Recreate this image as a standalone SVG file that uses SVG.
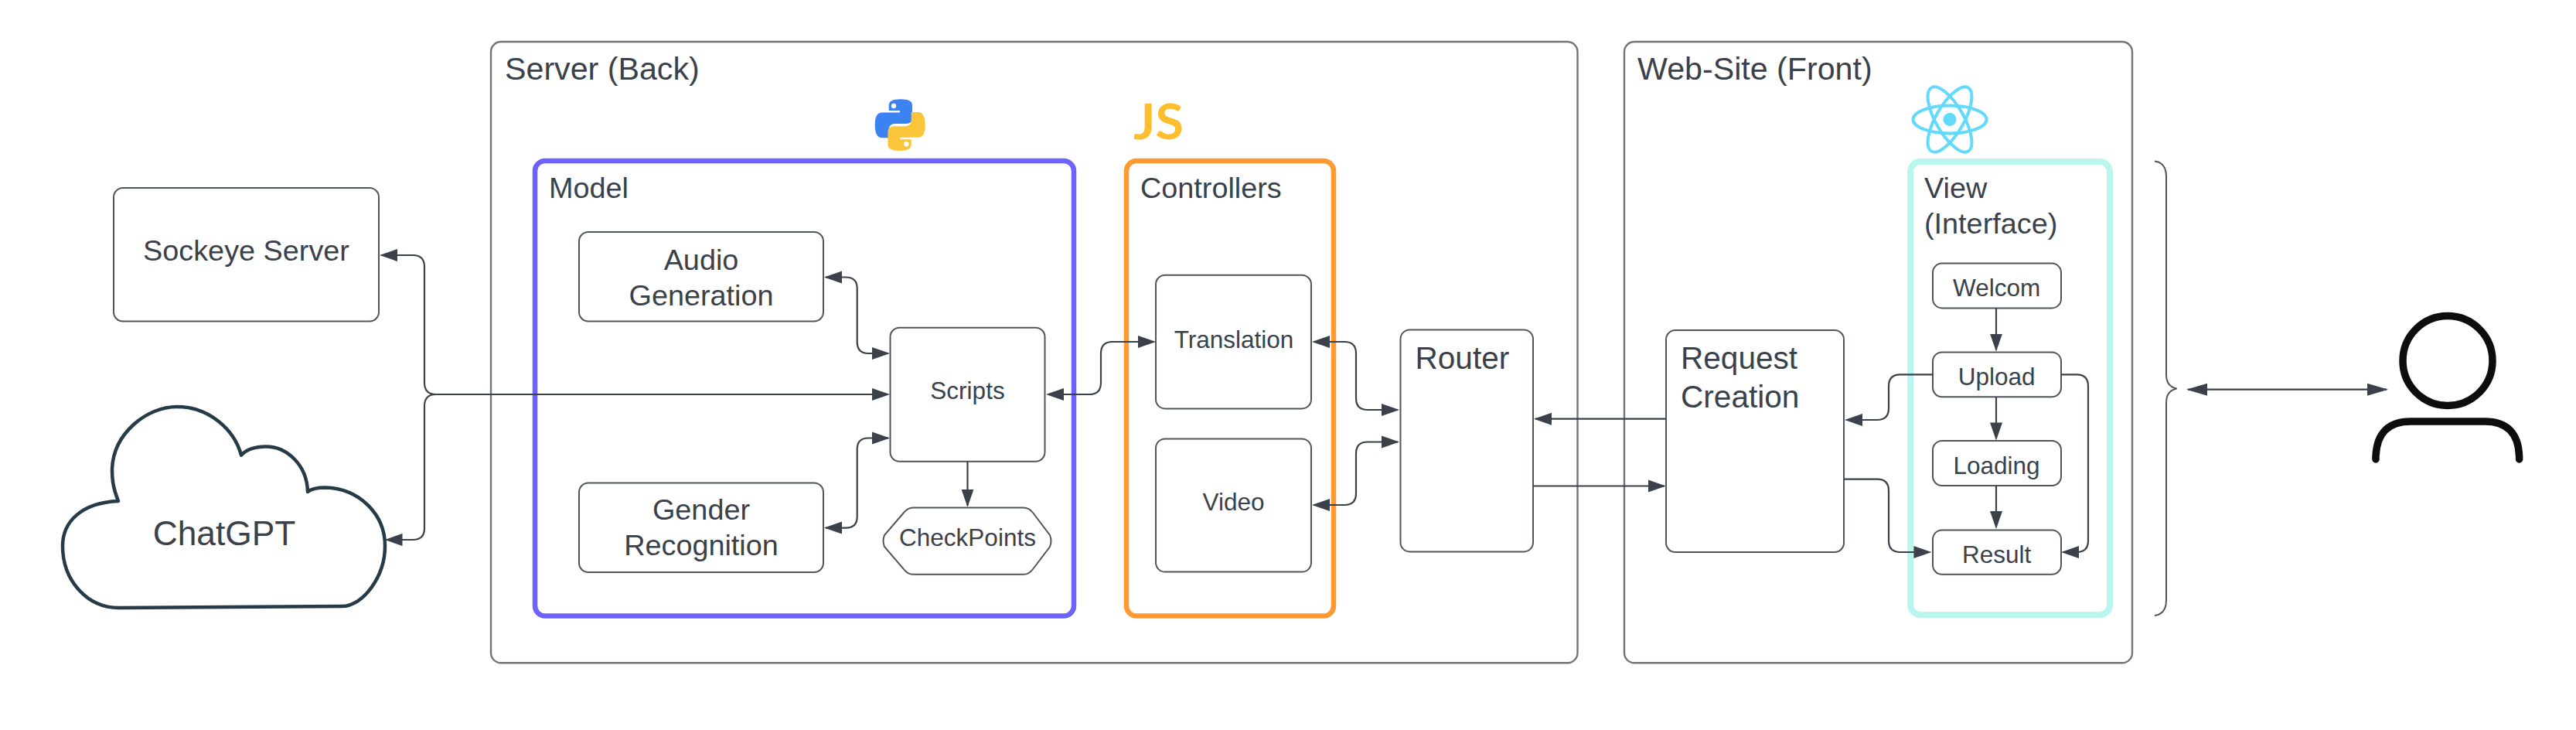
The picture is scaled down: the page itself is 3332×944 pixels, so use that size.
<svg xmlns="http://www.w3.org/2000/svg" xmlns:xlink="http://www.w3.org/1999/xlink" width="3332" height="944" viewBox="0 0 3332 944">
<defs>
<style>
text{font-family:"Liberation Sans",Arial,sans-serif;fill:#3a414a}
.c{text-anchor:middle}
.s{font-size:31.5px}
.m{font-size:37.8px}
.l{font-size:41.2px}
.r{font-size:40.6px}
.box{fill:#fff;stroke:#50555d;stroke-width:2}
.outer{fill:none;stroke:#6f747b;stroke-width:2.4}
.wire{fill:none;stroke:#3a414a;stroke-width:2.2;marker-end:url(#a)}
.both{marker-start:url(#a)}
</style>
<marker id="a" markerUnits="userSpaceOnUse" markerWidth="24" markerHeight="18" viewBox="0 0 24 18" refX="21" refY="9" orient="auto-start-reverse"><path d="M0 1L23 9L0 17Z" fill="#3a414a"/></marker>
<marker id="b" markerUnits="userSpaceOnUse" markerWidth="28" markerHeight="18" viewBox="0 0 28 18" refX="25" refY="9" orient="auto-start-reverse"><path d="M0 1L27 9L0 17Z" fill="#3a414a"/></marker>
<path id="snake" d="M1149.7 143V136Q1149.7 128.3 1165 128.3Q1180 128.3 1180 136V152Q1180 160 1172 160H1158Q1149.7 160 1149.7 168V178.3H1141Q1131.7 178.3 1131.7 161.5Q1131.7 145.5 1141 145.5H1164V143Z"/>
</defs>
<rect width="3332" height="944" fill="#fff"/>
<g id="server"><rect class="outer" x="635" y="54" width="1405.5" height="803.3" rx="13"/><text class="l" x="653" y="103.3">Server (Back)</text></g>
<g id="website"><rect class="outer" x="2101" y="54" width="657" height="803.3" rx="13"/><text class="l" x="2118" y="103.3">Web-Site (Front)</text></g>
<g id="model"><rect x="692" y="208" width="697" height="588.5" rx="13" fill="none" stroke="#6c63ff" stroke-width="6.5"/><text class="m" x="710" y="256">Model</text></g>
<g id="controllers"><rect x="1457" y="208" width="268" height="588.5" rx="13" fill="none" stroke="#ff9a33" stroke-width="6.5"/><text class="m" x="1475" y="256">Controllers</text></g>
<g id="view"><rect x="2471" y="209" width="258" height="586" rx="13" fill="none" stroke="#b8f6ee" stroke-width="8"/><text class="m" x="2489" y="256">View</text><text class="m" x="2489" y="302">(Interface)</text></g>
<g id="python-logo"><use href="#snake" fill="#3b82f2"/><use href="#snake" fill="#fbc53a" transform="rotate(180 1164.2 161.6)"/><circle cx="1156" cy="137" r="3.2" fill="#fff"/><circle cx="1172.4" cy="186.2" r="3.2" fill="#fff"/></g>
<g id="js-logo"><text x="1466" y="180" font-size="63" font-weight="700" textLength="65" lengthAdjust="spacingAndGlyphs" style="font-family:Lato,sans-serif;fill:#fdbd2d">JS</text></g>
<g id="react-logo" fill="none" stroke="#61dafb" stroke-width="4"><ellipse cx="2522" cy="154.5" rx="47.5" ry="18"/><ellipse cx="2522" cy="154.5" rx="47.5" ry="18" transform="rotate(60 2522 154.5)"/><ellipse cx="2522" cy="154.5" rx="47.5" ry="18" transform="rotate(120 2522 154.5)"/><circle cx="2522" cy="154.5" r="8.5" fill="#61dafb" stroke="none"/></g>
<g id="sockeye"><rect class="box" x="147" y="243" width="343" height="172.5" rx="12"/><text class="m c" x="318.5" y="336.7">Sockeye Server</text></g>
<g id="chatgpt"><path d="M153 648C146 630 145 620 145 606C147 560 190 526 229 526C270 526 303 555 312 588.6C320 580 332 577.5 344 577.5C370 577.5 397 600 398 636C403 632 412 630.6 421 630.6C465 632 498 665 498 706C498 745 470 784 442 784L154 786C112 786 81 750 81 706C81 675 105 650 153 648Z" fill="#fff" stroke="#263b47" stroke-width="4.5" stroke-linejoin="round"/><text class="c" x="290" y="705" font-size="44.3">ChatGPT</text></g>
<g id="audio"><rect class="box" x="749" y="300" width="316" height="115.5" rx="12"/><text class="m c" x="907" y="349">Audio</text><text class="m c" x="907" y="394.7">Generation</text></g>
<g id="gender"><rect class="box" x="749" y="624.5" width="316" height="115.5" rx="12"/><text class="m c" x="907" y="672">Gender</text><text class="m c" x="907" y="718">Recognition</text></g>
<g id="scripts"><rect class="box" x="1151.5" y="423.7" width="200" height="173" rx="12"/><text class="s c" x="1251.5" y="515.5">Scripts</text></g>
<g id="checkpoints"><path class="box" d="M1181 656.5H1324Q1331 656.5 1336 663L1358 692Q1361 699.5 1358 707L1336 736Q1331 742.8 1324 742.8H1181Q1174 742.8 1169 736L1144 707Q1141 699.5 1144 692L1169 663Q1174 656.5 1181 656.5Z"/><text class="s c" x="1251.5" y="706">CheckPoints</text></g>
<g id="translation"><rect class="box" x="1495" y="355.7" width="201" height="172.7" rx="12"/><text class="s c" x="1596" y="450">Translation</text></g>
<g id="video"><rect class="box" x="1495" y="567.4" width="201" height="172.2" rx="12"/><text class="s c" x="1595.5" y="660">Video</text></g>
<g id="router"><rect class="box" x="1811.5" y="426.4" width="171.5" height="287" rx="12"/><text class="r" x="1830.5" y="476.5">Router</text></g>
<g id="request"><rect class="box" x="2155" y="427" width="230" height="287" rx="12"/><text class="r" x="2174" y="476.5">Request</text><text class="r" x="2174" y="527">Creation</text></g>
<g id="welcom"><rect class="box" x="2500" y="340.6" width="166" height="57.8" rx="12"/><text class="s c" x="2582.6" y="383.3">Welcom</text></g>
<g id="upload"><rect class="box" x="2500" y="455.4" width="166" height="57.8" rx="12"/><text class="s c" x="2582.6" y="498">Upload</text></g>
<g id="loading"><rect class="box" x="2500" y="570" width="166" height="58" rx="12"/><text class="s c" x="2582.6" y="613">Loading</text></g>
<g id="result"><rect class="box" x="2500" y="685.4" width="166" height="57.4" rx="12"/><text class="s c" x="2582.6" y="727.6">Result</text></g>
<g id="brace"><path d="M2787 208.6Q2802 210 2802 228V484Q2802 500 2815.6 502.4Q2802 505 2802 521V776Q2802 794 2787 796" fill="none" stroke="#50555d" stroke-width="2"/></g>
<g id="user" fill="none" stroke="#0d0d0d" stroke-width="9.5" stroke-linecap="round"><circle cx="3166" cy="466.5" r="58"/><path d="M3073 594V590Q3075 545 3118 545H3214Q3257 545 3258.6 590V594"/></g>
<g id="connectors">
<path class="wire both" d="M1149 510H564Q549 510 549 495V345Q549 330 534 330H493"/>
<path class="wire" d="M1149 510H564Q549 510 549 525V683Q549 698 534 698H499.5"/>
<path class="wire both" d="M1068 358.5H1094Q1108.7 358.5 1108.7 373V442Q1108.7 457 1123 457H1149"/>
<path class="wire both" d="M1068 682.6H1094Q1108.7 682.6 1108.7 668V581Q1108.7 566.5 1123 566.5H1149"/>
<path class="wire" d="M1251.5 597V653.7"/>
<path class="wire both" d="M1355 510H1409Q1424 510 1424 495V457Q1424 442 1439 442H1493"/>
<path class="wire both" d="M1699 442H1739Q1754 442 1754 457V515Q1754 530 1769 530H1808"/>
<path class="wire both" d="M1699 653H1739Q1754 653 1754 638V586.5Q1754 571.5 1769 571.5H1808"/>
<path class="wire" d="M2155 541.7H1986"/>
<path class="wire" d="M1983 628.5H2152.7"/>
<path class="wire" d="M2500 484.3H2458Q2443 484.3 2443 499V528Q2443 543 2428 543H2388"/>
<path class="wire" d="M2385 619.7H2428Q2443 619.7 2443 634.7V699Q2443 714 2458 714H2496.4"/>
<path class="wire" d="M2666 484.3H2686Q2701 484.3 2701 499V699Q2701 714 2686 714H2668"/>
<path class="wire" d="M2582 398.4V452.6"/>
<path class="wire" d="M2582 513.2V567.4"/>
<path class="wire" d="M2582 628V682"/>
<path d="M2830 503.7H3087" fill="none" stroke="#3a414a" stroke-width="2.2" marker-start="url(#b)" marker-end="url(#b)"/>
</g>
</svg>
